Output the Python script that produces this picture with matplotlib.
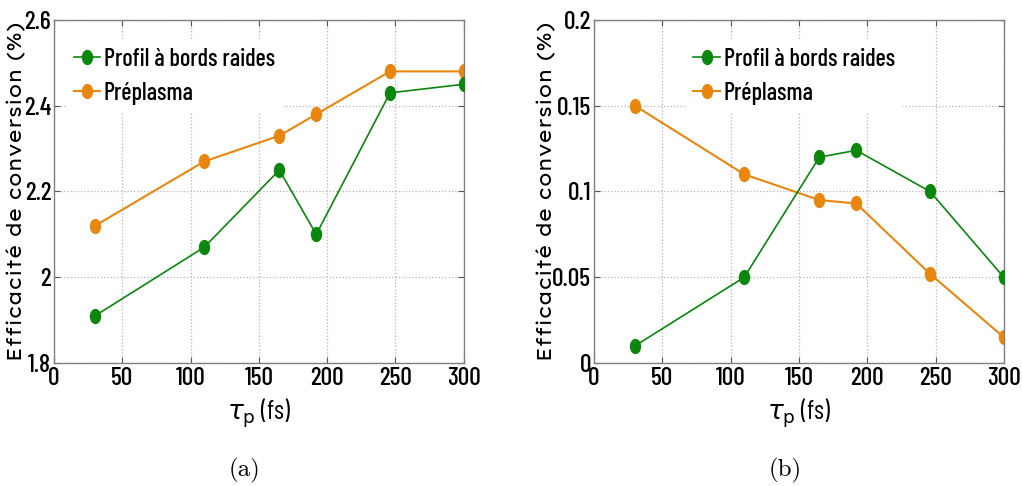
import matplotlib
matplotlib.use("Agg")
import matplotlib.pyplot as plt
from matplotlib.path import Path
from matplotlib.transforms import Affine2D

# data
tau = [30, 110, 165, 192, 246, 300]
raides_a = [1.91, 2.07, 2.25, 2.10, 2.43, 2.45]
preplasma_a = [2.12, 2.27, 2.33, 2.38, 2.48, 2.48]
raides_b = [0.01, 0.05, 0.12, 0.124, 0.10, 0.05]
preplasma_b = [0.15, 0.11, 0.095, 0.093, 0.052, 0.015]

xticks = [0, 50, 100, 150, 200, 250, 300]
yticks_a = [1.8, 2.0, 2.2, 2.4, 2.6]
ytick_labels_a = ["1.8", "2", "2.2", "2.4", "2.6"]
yticks_b = [0, 0.05, 0.1, 0.15, 0.2]
ytick_labels_b = ["0", "0.05", "0.1", "0.15", "0.2"]

GREEN = "#0a870c"
ORANGE = "#e8860e"
NARROW = ["Barlow Condensed", "Archivo Narrow", "Liberation Sans", "DejaVu Sans"]
WIDE = ["Lexend Exa", "DejaVu Sans"]

plt.rcParams["font.family"] = NARROW
plt.rcParams["font.weight"] = "medium"
plt.rcParams["mathtext.fontset"] = "dejavusans"

# slightly tall ellipse marker, like the matlab export
ellipse = Affine2D().scale(0.72, 1.0).transform_path(Path.unit_circle())

fig = plt.figure(figsize=(10.22, 4.86), dpi=100)
ax1 = fig.add_axes([0.0528, 0.253, 0.401, 0.706])
ax2 = fig.add_axes([0.5812, 0.253, 0.401, 0.706])


def draw_panel(ax, g, o, yticks, ylabels, ylim, leg_x, ylab_x):
    ax.plot(tau, g, color=GREEN, lw=1.2, marker=ellipse, ms=10, label="Profil à bords raides", zorder=3)
    ax.plot(tau, o, color=ORANGE, lw=1.5, marker=ellipse, ms=10, label="Préplasma", zorder=2)
    ax.set_xlim(0, 300)
    ax.set_ylim(*ylim)
    ax.set_xticks(xticks)
    ax.set_xticklabels([str(t) for t in xticks])
    ax.set_yticks(yticks)
    ax.set_yticklabels(ylabels)
    ax.tick_params(direction="in", top=True, right=True, labelsize=18.5, length=4,
                   color="#555555", width=0.8)
    ax.tick_params(axis="x", pad=3)
    ax.tick_params(axis="y", pad=2)
    ax.grid(True, linestyle=":", color="#b5b5b5", lw=0.9)
    for s in ax.spines.values():
        s.set_color("#808080")
        s.set_linewidth(1.0)
    ax.set_xlabel(r"$\tau_{\mathrm{p}}$ (fs)", fontsize=19, labelpad=5)
    ax.set_ylabel("Efficacité de conversion (%)", fontsize=14.3, family=WIDE, fontweight="normal")
    ax.yaxis.set_label_coords(ylab_x, 0.5)
    leg = ax.legend(loc="upper left", bbox_to_anchor=(leg_x, 0.94), frameon=True,
                    fontsize=17.5, handlelength=1.1, handletextpad=0.15, borderpad=0.3,
                    labelspacing=0.45, borderaxespad=0, fancybox=False)
    leg.get_frame().set_edgecolor("white")
    leg.get_frame().set_facecolor("white")
    leg.get_frame().set_alpha(1)


draw_panel(ax1, raides_a, preplasma_a, yticks_a, ytick_labels_a, (1.8, 2.6), 0.03, -0.07)
draw_panel(ax2, raides_b, preplasma_b, yticks_b, ytick_labels_b, (0, 0.2), 0.225, -0.095)

fig.text(0.2397, 0.033, "(a)", ha="center", va="center", fontsize=18, family="cmr10", fontweight="normal")
fig.text(0.768, 0.033, "(b)", ha="center", va="center", fontsize=18, family="cmr10", fontweight="normal")

fig.savefig("out.png", dpi=100)
